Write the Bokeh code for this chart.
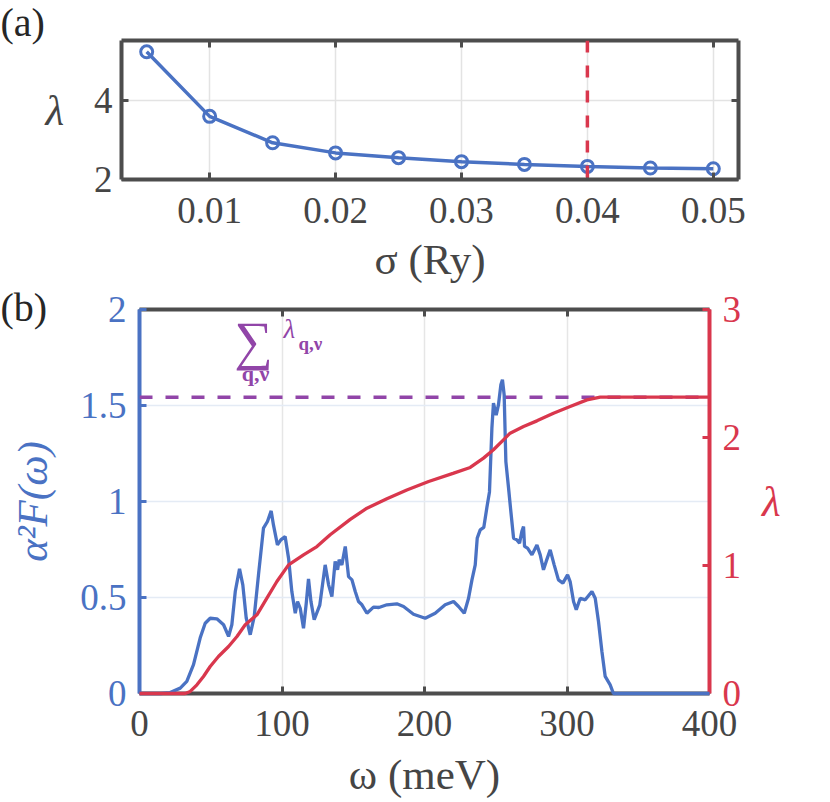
from bokeh.plotting import figure
from bokeh.models import (Range1d, LinearAxis, FixedTicker, Span, Label, Title,
                          CustomJSTickFormatter)
from bokeh.layouts import column
from bokeh.embed import file_html
from bokeh.resources import INLINE

# ---------------- data: panel (a) ----------------
sigma = [0.005, 0.010, 0.015, 0.020, 0.025, 0.030, 0.035, 0.040, 0.045, 0.050]
lam_sigma = [5.215, 3.59, 2.925, 2.67, 2.55, 2.45, 2.38, 2.33, 2.29, 2.27]
sigma_selected = 0.04
sigma_ticks = [0.01, 0.02, 0.03, 0.04, 0.05]
sigma_tick_labels = ["0.01", "0.02", "0.03", "0.04", "0.05"]
lam_ticks_a = [2, 4]

# ---------------- data: panel (b) ----------------
omega_a2f = [0, 15, 21.5, 28.6, 33.2, 37.9, 42.6, 46.1, 49.6, 54.3, 59.0, 62.5, 64.8,
             67.2, 70.2, 72.5, 74.9, 77.7, 80.5, 83.5, 87.0, 89.8, 92.4, 94.0, 96.8,
             99.2, 102.2, 104.6, 106.9, 109.3, 110.9, 112.8, 115.1, 117.0, 118.6,
             120.3, 122.6, 126.5, 130.3, 132.7, 135.0, 137.3, 139.0, 140.1, 142.0,
             144.4, 146.7, 149.1, 151.4, 153.7, 156.1, 159.6, 164.2, 168.0, 173.6,
             180.6, 185.3, 192.3, 200.5, 207.5, 214.5, 220.4, 223.9, 227.9, 230.9,
             233.3, 235.6, 237.0, 239.1, 241.6, 243.8, 245.6, 247.3, 248.4, 250.3,
             251.9, 253.6, 254.7, 255.9, 257.1, 259.0, 260.6, 262.5, 264.8, 266.7,
             268.3, 269.5, 270.2, 272.3, 275.4, 278.9, 281.2, 283.5, 285.4, 288.2,
             291.0, 294.0, 297.1, 300.4, 302.2, 304.6, 306.5, 309.3, 312.8, 317.5,
             319.8, 322.1, 324.5, 326.8, 330.3, 332.6, 400]
a2f = [0, 0, 0.005, 0.028, 0.063, 0.15, 0.29, 0.366, 0.392, 0.389, 0.358, 0.297, 0.358,
       0.531, 0.649, 0.566, 0.392, 0.306, 0.40, 0.618, 0.861, 0.896, 0.951, 0.878, 0.774,
       0.80, 0.818, 0.705, 0.531, 0.418, 0.479, 0.444, 0.34, 0.469, 0.597,
       0.48, 0.384, 0.46, 0.67, 0.566, 0.505, 0.688, 0.644, 0.696, 0.67,
       0.766, 0.609, 0.592, 0.531, 0.479, 0.462, 0.418, 0.45, 0.448, 0.462,
       0.467, 0.453, 0.413, 0.392, 0.418, 0.462, 0.479, 0.453, 0.418, 0.496,
       0.592, 0.67, 0.809, 0.852, 0.865, 0.97, 1.05, 1.382, 1.512, 1.45,
       1.503, 1.608, 1.634, 1.556, 1.208, 1.069, 0.948, 0.809, 0.80, 0.783,
       0.844, 0.87, 0.766, 0.757, 0.722, 0.774, 0.722, 0.644, 0.688, 0.748,
       0.67, 0.592, 0.575, 0.618, 0.583, 0.479, 0.436, 0.496, 0.488, 0.531,
       0.496, 0.375, 0.219, 0.089, 0.045, 0.0, 0]
omega_lam = [0, 32, 35.6, 40.3, 44.9, 49.6, 55.4, 62.5, 68.4, 74.2, 82.4, 89.4, 96.4,
             104.6, 115.1, 124.5, 133.8, 147.9, 159.6, 173.6, 187.6, 202.9, 220.0,
             232.1, 241.4, 248.4, 255.4, 260.1, 269.5, 278.9, 290.5, 302.2, 314.0,
             323.3, 400]
lam_omega = [0, 0, 0.016, 0.068, 0.133, 0.211, 0.289, 0.367, 0.445, 0.537, 0.615, 0.745,
             0.875, 1.005, 1.083, 1.148, 1.24, 1.36, 1.448, 1.521, 1.590, 1.656, 1.72,
             1.766, 1.839, 1.904, 1.982, 2.034, 2.086, 2.130, 2.190, 2.242, 2.294,
             2.315, 2.315]
lam_total = 2.315
omega_ticks = [0, 100, 200, 300, 400]
a2f_ticks = [0, 0.5, 1, 1.5, 2]
a2f_tick_labels = ["0", "0.5", "1", "1.5", "2"]
lam_ticks_b = [0, 1, 2, 3]

# ---------------- style ----------------
FONT = "Liberation Serif"
BLUE = "#4a72c3"
RED = "#d9374d"
PURPLE = "#9145a8"
DARK = "#4d4d4d"
TXT = "#454545"
INK = "#262626"
TICK_FS = "37px"
LAB_FS = "43px"
BLANK = CustomJSTickFormatter(code="return ''")


def style_axis(ax, color, ticks, labels=True, standoff=10, label_color=TXT):
    ax.ticker = FixedTicker(ticks=ticks)
    ax.axis_line_color = color
    ax.axis_line_width = 4
    ax.major_tick_line_color = color
    ax.major_tick_line_width = 3
    ax.major_tick_in = 7
    ax.major_tick_out = 0
    ax.minor_tick_line_color = None
    ax.major_label_text_font = FONT
    ax.axis_label_text_font = FONT
    ax.axis_label_text_font_size = LAB_FS
    if labels:
        ax.major_label_text_font_size = TICK_FS
        ax.major_label_text_color = label_color
        ax.major_label_standoff = standoff
    else:
        ax.formatter = BLANK
        ax.major_label_text_font_size = "1px"
        ax.major_label_standoff = 0


def set_label(ax, text, color, style="normal", standoff=5, orientation="parallel"):
    ax.axis_label = text
    ax.axis_label_text_color = color
    ax.axis_label_text_font_style = style
    ax.axis_label_standoff = standoff
    ax.axis_label_orientation = orientation


def lab(p, text, x, y, size, color, style="normal", align="left", baseline="alphabetic"):
    p.add_layout(Label(x=x, y=y, x_units="screen", y_units="screen", text=text,
                       text_font=FONT, text_font_size=f"{size}px", text_color=color,
                       text_font_style=style, text_align=align, text_baseline=baseline))


# ================= panel (a) =================
p1 = figure(frame_width=617, frame_height=139, x_range=Range1d(0.003, 0.052),
            y_range=Range1d(2, 5.5), toolbar_location=None, output_backend="svg",
            min_border_left=121, min_border_right=92, min_border_top=40,
            min_border_bottom=105, frame_align=False,
            background_fill_color="white", border_fill_color="white")
p1.outline_line_color = None
style_axis(p1.xaxis[0], DARK, sigma_ticks, standoff=18)
p1.xaxis[0].major_label_overrides = {t: s for t, s in zip(sigma_ticks, sigma_tick_labels)}
set_label(p1.xaxis[0], "σ (Ry)", TXT, standoff=10)
style_axis(p1.yaxis[0], DARK, lam_ticks_a, standoff=9)
set_label(p1.yaxis[0], "λ", TXT, style="italic", standoff=27, orientation="horizontal")
top1 = LinearAxis()
style_axis(top1, DARK, sigma_ticks, labels=False)
p1.add_layout(top1, "above")
right1 = LinearAxis()
style_axis(right1, DARK, lam_ticks_a, labels=False)
p1.add_layout(right1, "right")
p1.add_layout(Title(text="(a)", align="left", offset=-121, standoff=-13,
                    vertical_align="top", text_font=FONT, text_font_size="40px",
                    text_font_style="normal", text_color=INK), "above")
p1.xgrid.ticker = FixedTicker(ticks=sigma_ticks)
p1.ygrid.ticker = FixedTicker(ticks=lam_ticks_a)
p1.xgrid.grid_line_color = "#e3e3e3"
p1.ygrid.grid_line_color = "#e3e3e3"
p1.xgrid.grid_line_width = 1.5
p1.ygrid.grid_line_width = 1.5

p1.add_layout(Span(location=sigma_selected, dimension="height", line_color=RED,
                   line_width=3.5, line_dash="12 13"))
p1.line(sigma, lam_sigma, line_color=BLUE, line_width=3.5)
p1.scatter(sigma, lam_sigma, marker="circle", size=12, line_color=BLUE,
           line_width=3, fill_color=None)

# ================= panel (b) =================
p2 = figure(frame_width=570, frame_height=384, x_range=Range1d(0, 400),
            y_range=Range1d(0, 2), toolbar_location=None, output_backend="svg",
            min_border_left=139, min_border_right=121, min_border_top=24,
            min_border_bottom=109, frame_align=False,
            background_fill_color="white", border_fill_color="white")
p2.outline_line_color = None
p2.extra_y_ranges = {"lam": Range1d(0, 3)}
style_axis(p2.xaxis[0], DARK, omega_ticks, standoff=17)
set_label(p2.xaxis[0], "ω (meV)", TXT, standoff=12)
style_axis(p2.yaxis[0], BLUE, a2f_ticks, standoff=13, label_color=BLUE)
p2.yaxis[0].major_label_overrides = {t: s for t, s in zip(a2f_ticks, a2f_tick_labels)}
set_label(p2.yaxis[0], "α²F(ω)", BLUE, style="italic", standoff=21)
top2 = LinearAxis()
style_axis(top2, DARK, omega_ticks, labels=False)
p2.add_layout(top2, "above")
right2 = LinearAxis(y_range_name="lam")
style_axis(right2, RED, lam_ticks_b, standoff=13, label_color=RED)
set_label(right2, "λ", RED, style="italic", standoff=18, orientation="horizontal")
p2.add_layout(right2, "right")
p2.add_layout(Title(text="(b)", align="left", offset=-139, standoff=-45,
                    vertical_align="top", text_font=FONT, text_font_size="40px",
                    text_font_style="normal", text_color=INK), "above")
p2.xgrid.ticker = FixedTicker(ticks=omega_ticks)
p2.ygrid.ticker = FixedTicker(ticks=a2f_ticks)
p2.xgrid.grid_line_color = "#e6e6e6"
p2.ygrid.grid_line_color = "#e4ebf5"
p2.xgrid.grid_line_width = 1.5
p2.ygrid.grid_line_width = 1.5

p2.add_layout(Span(location=lam_total, dimension="width", y_range_name="lam",
                   line_color=PURPLE, line_width=3.5, line_dash="13 13"))
p2.line(omega_a2f, a2f, line_color=BLUE, line_width=3.3, level="overlay")
p2.line(omega_lam, lam_omega, line_color=RED, line_width=3.3, y_range_name="lam",
        level="overlay")

# sum annotation  (sum over q,nu of lambda_{q,nu})
lab(p2, "∑", 95, 353, 54, PURPLE)
lab(p2, "q,ν", 116, 320, 22, PURPLE, style="bold", align="center")
lab(p2, "λ", 144, 365, 27, PURPLE, style="italic")
lab(p2, "q,ν", 159, 350, 19, PURPLE, style="bold")

layout = column(p1, p2, spacing=0)
open("out.html", "w").write(file_html(layout, INLINE))
